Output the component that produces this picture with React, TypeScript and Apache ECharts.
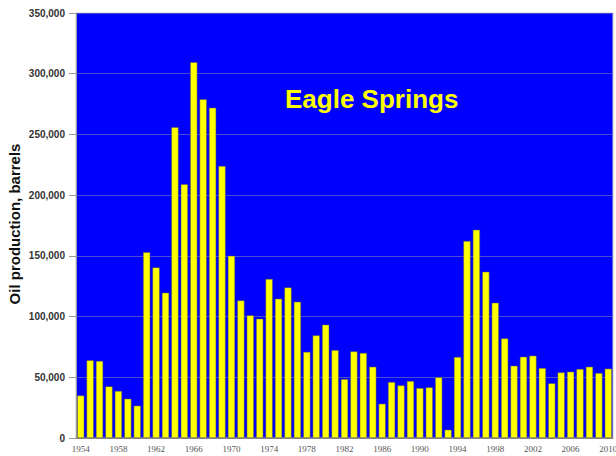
import React, { useEffect, useRef } from "react";
import * as echarts from "echarts";

const years: string[] = [];
for (let y = 1954; y <= 2010; y++) years.push(String(y));

const production: number[] = [
  35000, 64000, 63500, 42500, 38700, 32400, 26600, 153000, 140500, 119700,
  256000, 209000, 309500, 279000, 272000, 224000, 150000, 113300, 101000, 98200,
  131000, 114700, 124000, 112200, 70900, 84500, 93300, 72400, 48500, 71300,
  70000, 58700, 28200, 46100, 43300, 46900, 41100, 41700, 49900, 6800,
  66700, 162200, 171500, 136900, 111400, 82000, 59500, 66900, 67800, 57600,
  45000, 54000, 54600, 56800, 58700, 53500, 57100,
];

const yTicks = { min: 0, max: 350000, interval: 50000 };
const titleText = "Eagle Springs";
const yAxisTitle = "Oil production, barrels";

export default function App() {
  const ref = useRef<HTMLDivElement>(null);
  useEffect(() => {
    if (!ref.current) return;
    const chart = echarts.init(ref.current, undefined, { renderer: "svg" });
    chart.setOption({
      animation: false,
      backgroundColor: "#ffffff",
      grid: {
        left: 76,
        right: 3,
        top: 13,
        bottom: 18,
        containLabel: false,
        outerBoundsMode: "none",
        show: true,
        backgroundColor: "#0000ff",
        borderColor: "#c8c8c8",
        borderWidth: 1,
      },
      graphic: [
        {
          type: "text",
          left: 285,
          top: 86,
          z: 10,
          style: {
            text: titleText,
            fill: "#ffff00",
            font: "bold 26px Arial, 'Liberation Sans', sans-serif",
          },
        },
        {
          type: "text",
          x: 14,
          y: 224,
          rotation: Math.PI / 2,
          z: 10,
          style: {
            text: yAxisTitle,
            fill: "#111111",
            font: "bold 15px Arial, 'Liberation Sans', sans-serif",
            align: "center",
            verticalAlign: "middle",
          },
        },
      ],
      xAxis: {
        type: "category",
        data: years,
        boundaryGap: true,
        axisLine: { show: true, lineStyle: { color: "#888888", width: 1 } },
        axisTick: { show: false },
        axisLabel: {
          interval: 3,
          margin: 6,
          color: "#555555",
          fontSize: 9,
          fontFamily: "'Liberation Serif', 'Times New Roman', serif",
        },
        splitLine: { show: false },
      },
      yAxis: {
        type: "value",
        min: yTicks.min,
        max: yTicks.max,
        interval: yTicks.interval,
        axisLine: { show: true, lineStyle: { color: "#999999", width: 1 } },
        axisTick: { show: true, length: 7, lineStyle: { color: "#999999" } },
        axisLabel: {
          margin: 11,
          color: "#333333",
          fontSize: 10,
          fontWeight: "bold",
          fontFamily: "Arial, 'Liberation Sans', sans-serif",
          formatter: (v: number) => v.toLocaleString("en-US"),
        },
        splitLine: { show: true, lineStyle: { color: "#4a4ad8", width: 1 } },
      },
      series: [
        {
          type: "bar",
          data: production,
          barCategoryGap: "24%",
          itemStyle: {
            color: "#ffff00",
            borderColor: "#555555",
            borderWidth: 0.5,
          },
        },
      ],
    });
    return () => chart.dispose();
  }, []);
  return <div ref={ref} style={{ width: 616, height: 456, position: "absolute", left: 0, top: 0 }} />;
}
